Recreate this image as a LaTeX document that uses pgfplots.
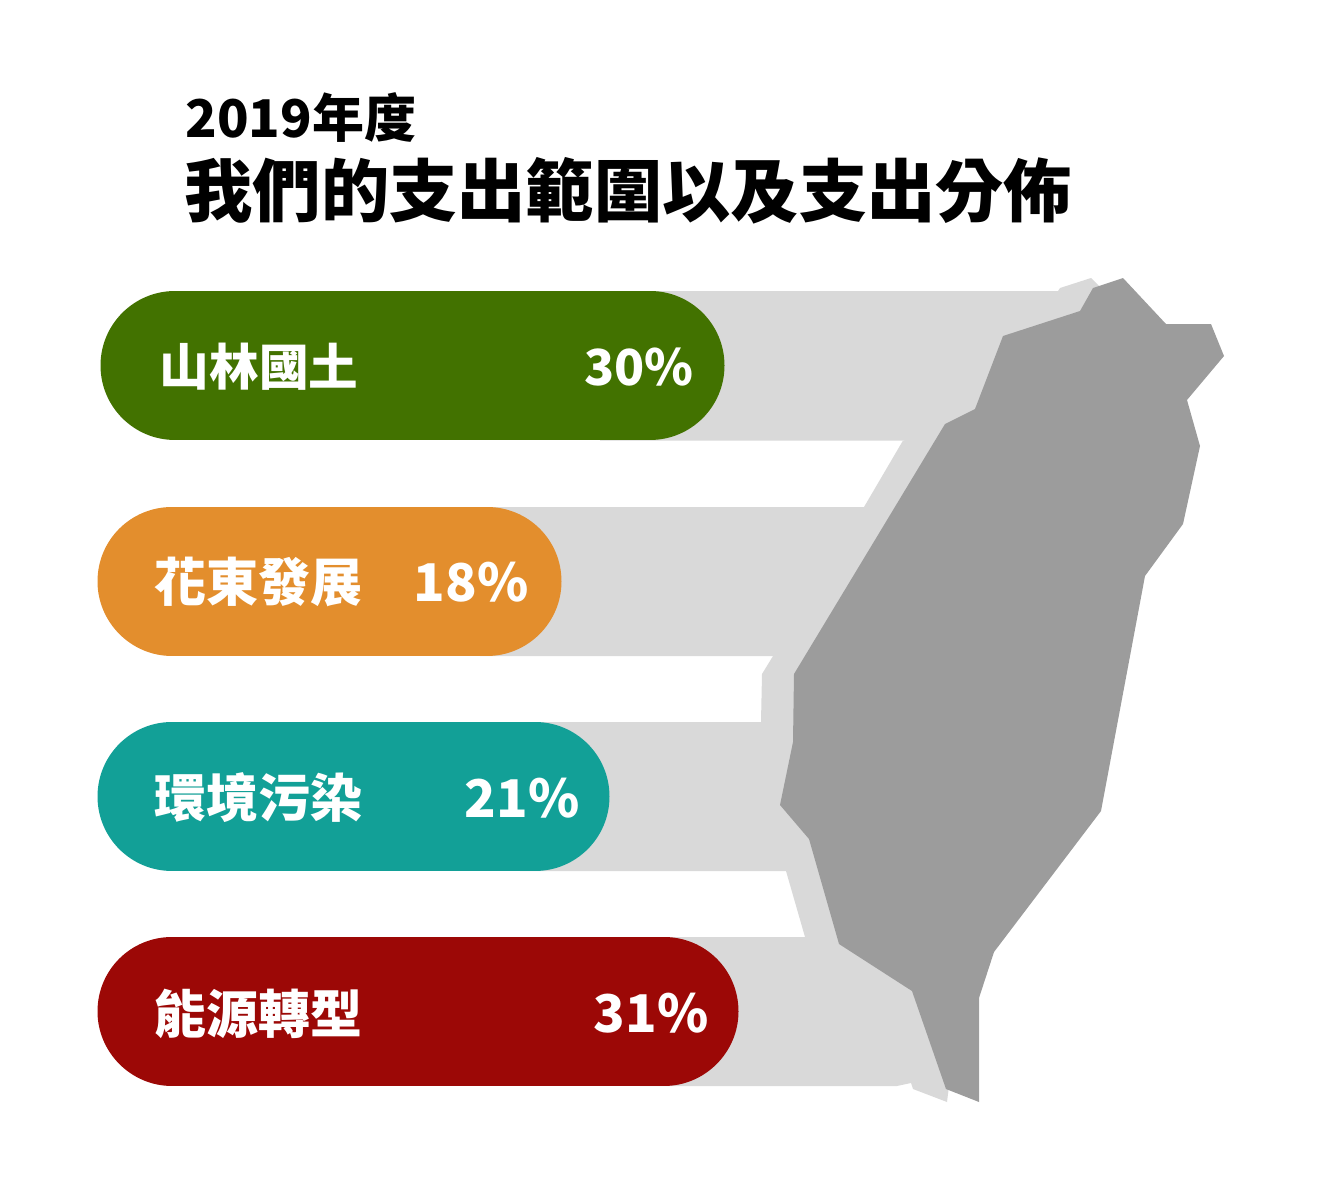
\documentclass[border=0pt]{standalone}
\usepackage{pgfplots}
\pgfplotsset{compat=1.18}
\usepackage{fontspec}
\setmainfont{Noto Sans CJK TC}
\newfontfamily\cjkblack{Noto Sans CJK TC Black}
\definecolor{backgray}{HTML}{D9D9D9}
\definecolor{mapgray}{HTML}{9C9C9C}
\definecolor{cgreen}{HTML}{427200}
\definecolor{corange}{HTML}{E38E2D}
\definecolor{cteal}{HTML}{12A097}
\definecolor{cred}{HTML}{9C0806}
\tikzset{
  lab/.style={anchor=base west, text=white, font=\cjkblack\fontsize{26}{26}\selectfont, inner sep=0pt},
  pct/.style={anchor=base east, text=white, font=\cjkblack\fontsize{26}{26}\selectfont, inner sep=0pt},
}
\pgfplotsset{bar/.style={line width=74.5pt, line cap=round, forget plot}}
\begin{document}
\begin{tikzpicture}
\begin{axis}[
  scale only axis, width=659pt, height=600pt,
  xmin=0, xmax=1318, ymin=0, ymax=1200, y dir=reverse,
  hide axis, clip=false,
]
\path (axis cs:0,0) (axis cs:1318,1200);
% grey backing behind the bars and the map
\addplot[fill=backgray, draw=none, forget plot] coordinates {
  (600,291) (1058,291) (1060,288) (1091,278) (1099,286) (1100,600) (904,440.5) (600,440.5)} --cycle;
\addplot[fill=backgray, draw=none, forget plot] coordinates {
  (480,507) (864,507) (903,440.5) (1000,440.5) (1000,656) (773,656) (480,656)} --cycle;
\addplot[fill=backgray, draw=none, forget plot] coordinates {
  (520,722) (761,722) (762,674) (773,656) (1000,656) (1000,871) (786,871) (520,871)} --cycle;
\addplot[fill=backgray, draw=none, forget plot] coordinates {
  (640,937) (805,937) (786,871) (1000,871) (960,1000) (947,1102) (913,1089) (911,1083) (897,1086) (640,1086)} --cycle;
% map
\addplot[fill=mapgray, draw=none, forget plot] coordinates {
  (1123,278) (1166,324) (1211,324) (1224,356) (1187,400) (1200,446) (1183,524) (1145,576)
  (1101,811) (994,952) (979,998) (979,1102) (946,1089) (912,991) (839,944) (809,839)
  (780,805) (793,742) (794,674) (945,424) (975,409) (1003,336) (1080,311) (1093,288)} --cycle;
% bars
\addplot[bar, cgreen] coordinates {(175,365.5) (650,365.5)};
\addplot[bar, corange] coordinates {(172,581) (487,581)};
\addplot[bar, cteal] coordinates {(172,796.5) (535,796.5)};
\addplot[bar, cred] coordinates {(172,1011) (664,1011)};
% labels
\node[lab, font=\cjkblack\fontsize{24.8}{24.8}\selectfont] at (axis cs:159.5,385) {山林國土};
\node[lab] at (axis cs:154.5,601) {花東發展};
\node[lab] at (axis cs:154.5,817) {環境污染};
\node[lab] at (axis cs:154.5,1033) {能源轉型};
\node[pct, font=\cjkblack\fontsize{24.8}{24.8}\selectfont] at (axis cs:694,385) {30\%};
\node[pct] at (axis cs:529,601) {18\%};
\node[pct] at (axis cs:580,817) {21\%};
\node[pct] at (axis cs:709,1032) {31\%};
\node[anchor=base west, inner sep=0pt, font=\cjkblack\fontsize{26}{26}\selectfont] at (axis cs:185,137) {2019年度};
\node[anchor=base west, inner sep=0pt, font=\cjkblack\fontsize{34.15}{34.15}\selectfont] at (axis cs:184,216) {我們的支出範圍以及支出分佈};
\end{axis}
\end{tikzpicture}
\end{document}
